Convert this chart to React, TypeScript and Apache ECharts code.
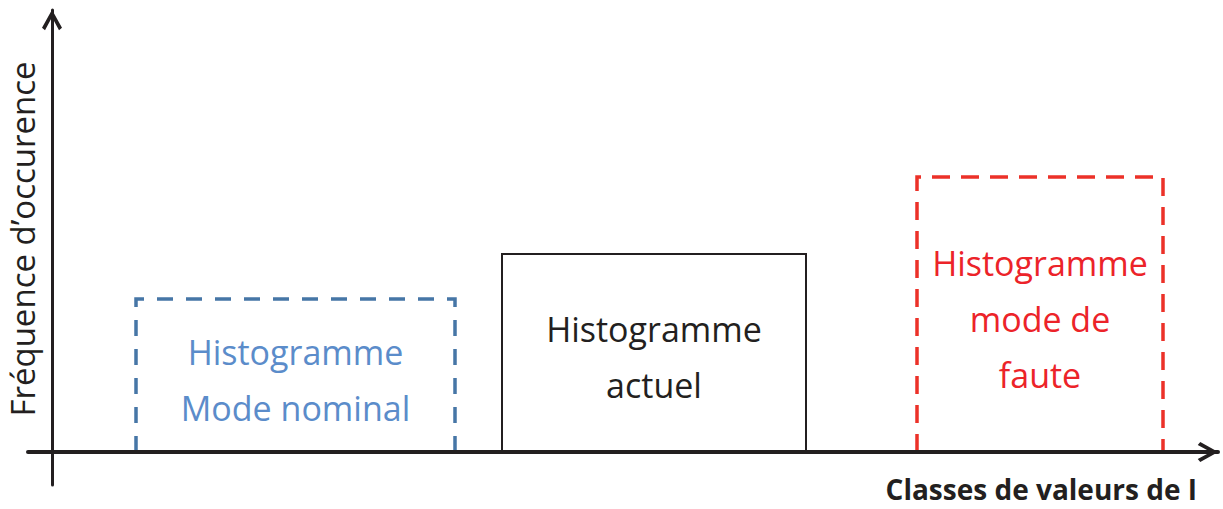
import React, { useEffect, useRef } from "react";
import * as echarts from "echarts";

// Histogram boxes (x: class-value units, y: frequency units)
const histogramLabels = ["Histogramme\nMode nominal", "Histogramme\nactuel", "Histogramme\nmode de\nfaute"];
const classStart = [8.4, 45.0, 86.5];
const classEnd = [40.3, 75.4, 111.1];
const frequency = [15.3, 19.8, 27.5];
const xAxisName = "Classes de valeurs de I";
const yAxisName = "Fréquence d’occurence";

const boxStyles = [
  { stroke: "#4676a6", text: "#5b8cca", lineWidth: 3.5, dash: [16, 13] as number[] | null },
  { stroke: "#231f20", text: "#231f20", lineWidth: 2, dash: null },
  { stroke: "#ec3128", text: "#ec2329", lineWidth: 3.5, dash: [18, 11] as number[] | null },
];

const chevron = "path://M10,0 L20,18 L17,20.5 L10,7.5 L3,20.5 L0,18 Z";

export default function App() {
  const ref = useRef<HTMLDivElement>(null);
  useEffect(() => {
    document.body.style.margin = "0";
    if (!ref.current) return;
    const chart = echarts.init(ref.current, undefined, { renderer: "svg" });
    const data = classStart.map((s, i) => [s, classEnd[i], frequency[i]]);
    const axisLine = (w: number) => ({
      onZero: true,
      symbol: ["none", chevron],
      symbolSize: [20, 23],
      symbolOffset: [0, -10],
      lineStyle: { color: "#231f20", width: w },
    });
    chart.setOption({
      animation: false,
      backgroundColor: "#ffffff",
      grid: { left: 28, right: 5, top: 10, bottom: 24, containLabel: false, outerBoundsMode: "none" },
      xAxis: {
        type: "value",
        min: -2.4,
        max: 116.6,
        axisLine: axisLine(4),
        axisTick: { show: false },
        axisLabel: { show: false },
        splitLine: { show: false },
        name: xAxisName,
        nameLocation: "end",
        nameGap: -21,
        nameTextStyle: {
          fontFamily: "Open Sans",
          fontWeight: "bold",
          fontSize: 28,
          color: "#231f20",
          align: "right",
          verticalAlign: "top",
          padding: [23, 0, 0, 0],
        },
      },
      yAxis: {
        type: "value",
        min: -3.3,
        max: 44.2,
        axisLine: axisLine(3),
        axisTick: { show: false },
        axisLabel: { show: false },
        splitLine: { show: false },
      },
      graphic: [
        {
          type: "text",
          x: 22,
          y: 239,
          rotation: Math.PI / 2,
          style: {
            text: yAxisName,
            fontFamily: "Open Sans",
            fontSize: 33,
            fill: "#231f20",
            align: "center",
            verticalAlign: "middle",
          },
        },
      ],
      series: [
        {
          type: "custom",
          z: -1,
          data,
          encode: { x: [0, 1], y: 2 },
          renderItem: (params: any, api: any) => {
            const i = params.dataIndex;
            const st = boxStyles[i];
            const p0 = api.coord([api.value(0), 0]);
            const p1 = api.coord([api.value(1), api.value(2)]);
            return {
              type: "group",
              children: [
                {
                  type: "polyline",
                  shape: {
                    points: [
                      [p0[0], p0[1]],
                      [p0[0], p1[1]],
                      [p1[0], p1[1]],
                      [p1[0], p0[1]],
                    ],
                  },
                  style: {
                    fill: "none",
                    stroke: st.stroke,
                    lineWidth: st.lineWidth,
                    lineDash: st.dash || undefined,
                    lineCap: "butt",
                  },
                },
                {
                  type: "text",
                  x: (p0[0] + p1[0]) / 2,
                  y: (p0[1] + p1[1]) / 2 + 4,
                  style: {
                    text: histogramLabels[i],
                    fill: st.text,
                    fontFamily: "Open Sans",
                    fontSize: 34,
                    lineHeight: 56,
                    align: "center",
                    verticalAlign: "middle",
                  },
                },
              ],
            };
          },
        },
      ],
    });
    return () => chart.dispose();
  }, []);
  return <div ref={ref} style={{ width: 1223, height: 509 }} />;
}
